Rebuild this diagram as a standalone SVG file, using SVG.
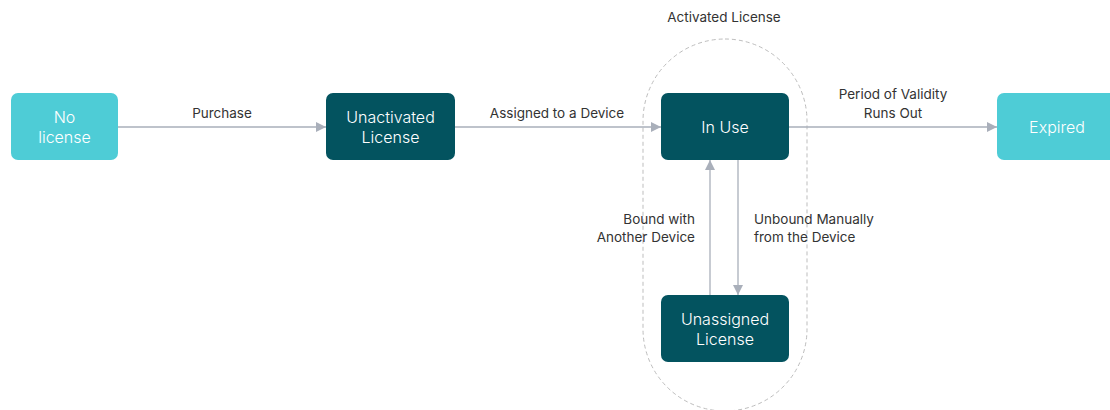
<svg xmlns="http://www.w3.org/2000/svg" width="1110" height="410" viewBox="0 0 1110 410">
<defs>
<style>
.light{fill:#4ECCD6}
.dark{fill:#03535F}
.nt{font-family:Inter,"Liberation Sans",sans-serif;font-size:16px;font-weight:300;fill:#FFFFFF;text-anchor:middle}
.lb{font-family:Inter,"Liberation Sans",sans-serif;font-size:13.5px;fill:#333333}
.edge{stroke:#A9AFBA;stroke-width:1.3;fill:none}
.grp{stroke:#BDBDBD;stroke-width:1;stroke-dasharray:4 3;fill:none}
</style>
<marker id="arr" viewBox="0 0 10 10" refX="10" refY="5" markerWidth="10" markerHeight="10" markerUnits="userSpaceOnUse" orient="auto">
<path d="M0,0 L10,5 L0,10 z" fill="#A9AFBA"/>
</marker>
</defs>
<rect width="1110" height="410" fill="#FFFFFF"/>
<g id="activated-license-group">
<rect class="grp" x="643" y="39" width="164" height="372" rx="82" ry="82"/>
<text class="lb" x="724" y="22" text-anchor="middle">Activated License</text>
</g>
<g id="connectors">
<line class="edge" x1="118" y1="127" x2="326" y2="127" marker-end="url(#arr)"/>
<text class="lb" x="222" y="118" text-anchor="middle">Purchase</text>
<line class="edge" x1="455" y1="127" x2="661" y2="127" marker-end="url(#arr)"/>
<text class="lb" x="557" y="118" text-anchor="middle">Assigned to a Device</text>
<line class="edge" x1="789" y1="127" x2="997" y2="127" marker-end="url(#arr)"/>
<text class="lb" x="893" y="99" text-anchor="middle">Period of Validity</text>
<text class="lb" x="893" y="118" text-anchor="middle">Runs Out</text>
<line class="edge" x1="710" y1="295" x2="710" y2="160" marker-end="url(#arr)"/>
<text class="lb" x="695" y="224" text-anchor="end">Bound with</text>
<text class="lb" x="695" y="242" text-anchor="end">Another Device</text>
<line class="edge" x1="738" y1="160" x2="738" y2="295" marker-end="url(#arr)"/>
<text class="lb" x="754" y="224">Unbound Manually</text>
<text class="lb" x="754" y="242">from the Device</text>
</g>
<g id="node-no-license">
<rect class="light" x="11" y="93" width="107" height="67" rx="7"/>
<text class="nt" x="64.5" y="123">No</text>
<text class="nt" x="64.5" y="143">license</text>
</g>
<g id="node-unactivated">
<rect class="dark" x="326" y="93" width="129" height="67" rx="7"/>
<text class="nt" x="390.5" y="123">Unactivated</text>
<text class="nt" x="390.5" y="143">License</text>
</g>
<g id="node-in-use">
<rect class="dark" x="661" y="93" width="128" height="67" rx="7"/>
<text class="nt" x="725" y="133">In Use</text>
</g>
<g id="node-unassigned">
<rect class="dark" x="661" y="295" width="128" height="67" rx="7"/>
<text class="nt" x="725" y="325">Unassigned</text>
<text class="nt" x="725" y="345">License</text>
</g>
<g id="node-expired">
<rect class="light" x="997" y="93" width="125" height="67" rx="7"/>
<text class="nt" x="1057" y="133">Expired</text>
</g>
</svg>
